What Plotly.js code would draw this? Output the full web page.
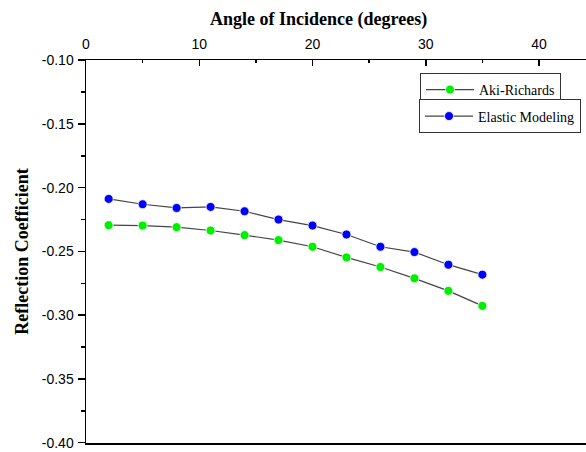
<!DOCTYPE html>
<html>
<head>
<meta charset="utf-8">
<script src="https://cdn.plot.ly/plotly-3.0.1.min.js"></script>
<style>html,body{margin:0;padding:0;background:#fff;}#chart{width:586px;height:452px;}</style>
</head>
<body>
<div id="chart"></div>
<script>
const angles = [2, 5, 8, 11, 14, 17, 20, 23, 26, 29, 32, 35];
const akiRichards = [-0.2294, -0.2297, -0.2310, -0.2336, -0.2372, -0.2411, -0.2463, -0.2547, -0.2622, -0.2711, -0.2809, -0.2927];
const elasticModeling = [-0.2088, -0.2130, -0.2159, -0.2151, -0.2185, -0.2250, -0.2297, -0.2367, -0.2463, -0.2505, -0.2604, -0.2682];
const xTicks = [0, 10, 20, 30, 40];
const yTicks = [-0.10, -0.15, -0.20, -0.25, -0.30, -0.35, -0.40];

const serif = 'Liberation Serif, Times New Roman, serif';
const sans = 'Liberation Sans, Arial, sans-serif';

const traces = [
  {x: angles, y: akiRichards, name: 'Aki-Richards', mode: 'lines+markers', type: 'scatter',
   line: {color: '#444', width: 1.2}, marker: {color: '#00ee00', size: 9, line: {color: '#fff', width: 0.8}},
   legend: 'legend'},
  {x: angles, y: elasticModeling, name: 'Elastic Modeling', mode: 'lines+markers', type: 'scatter',
   line: {color: '#444', width: 1.2}, marker: {color: '#0000ff', size: 9, line: {color: '#fff', width: 0.8}},
   legend: 'legend2'}
];

const legStyle = {font: {family: serif, size: 14, color: '#000'}, bordercolor: '#333', borderwidth: 1,
  bgcolor: '#fff', xanchor: 'left', yanchor: 'top', itemwidth: 48, tracegroupgap: 0};

const layout = {
  width: 586, height: 452,
  margin: {l: 86, r: 0, t: 60, b: 9, pad: 0},
  paper_bgcolor: '#fff', plot_bgcolor: '#fff',
  showlegend: true,
  xaxis: {
    side: 'top', range: [0, 44.15], tickvals: xTicks, ticktext: xTicks.map(String),
    ticks: 'inside', ticklen: 6, tickwidth: 1.5, tickcolor: '#000', ticklabelstandoff: 4,
    ticklabeloverflow: 'allow',
    minor: {dtick: 5, tick0: 0, ticks: 'inside', ticklen: 3, tickwidth: 1.5, tickcolor: '#000'},
    showline: true, linecolor: '#000', linewidth: 1.5, mirror: true,
    showgrid: false, zeroline: false,
    tickfont: {family: sans, size: 14, color: '#000'}
  },
  yaxis: {
    range: [-0.4002, -0.0999], tickvals: yTicks, ticktext: yTicks.map(v => v.toFixed(2)),
    ticks: 'outside', ticklen: 7, tickwidth: 1.5, tickcolor: '#000', ticklabelstandoff: 1,
    ticklabeloverflow: 'allow',
    minor: {dtick: 0.025, tick0: -0.10, ticks: 'outside', ticklen: 4, tickwidth: 1.5, tickcolor: '#000'},
    showline: true, linecolor: '#000', linewidth: 1.5,
    showgrid: false, zeroline: false,
    tickfont: {family: sans, size: 14, color: '#000'},
    title: {text: '<b>Reflection Coefficient</b>', font: {family: serif, size: 18, color: '#000'}, standoff: 8}
  },
  legend: Object.assign({x: 0.668, y: 0.966}, legStyle),
  legend2: Object.assign({x: 0.666, y: 0.897}, legStyle),
  annotations: [{
    text: '<b>Angle of Incidence (degrees)</b>', xref: 'paper', yref: 'paper',
    x: (318 - 86) / 500, y: 1, yshift: 41, xanchor: 'center', yanchor: 'middle', showarrow: false,
    font: {family: serif, size: 18, color: '#000'}
  }]
};

Plotly.newPlot('chart', traces, layout, {displayModeBar: false, staticPlot: true});
</script>
</body>
</html>
